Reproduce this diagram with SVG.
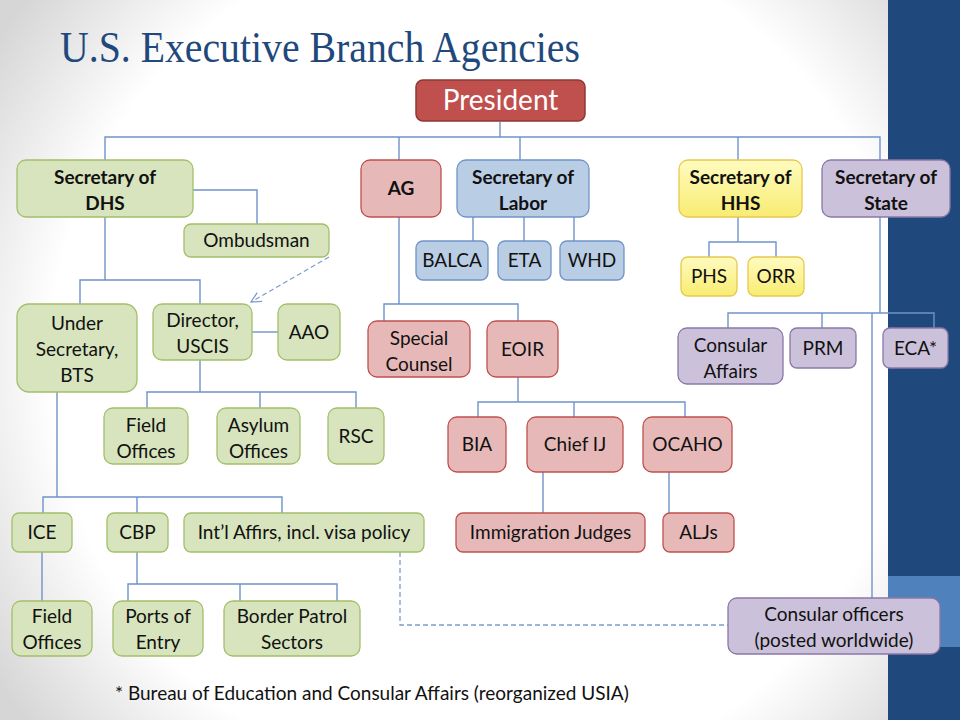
<svg xmlns="http://www.w3.org/2000/svg" width="960" height="720" viewBox="0 0 960 720">
<defs>
<radialGradient id="bg" cx="480" cy="360" r="580" gradientUnits="userSpaceOnUse">
<stop offset="0" stop-color="#ffffff"/>
<stop offset="0.74" stop-color="#ffffff"/>
<stop offset="1" stop-color="#d6d6d6"/>
</radialGradient>
<linearGradient id="yel" x1="0" y1="0" x2="0" y2="1">
<stop offset="0" stop-color="#fffbbf"/>
<stop offset="1" stop-color="#f8ec72"/>
</linearGradient>
<marker id="arr" viewBox="0 0 12 12" refX="11" refY="6" markerWidth="12" markerHeight="12" markerUnits="userSpaceOnUse" orient="auto">
<path d="M1 1 L11 6 L1 11" fill="none" stroke="#7f9ccc" stroke-width="1.3"/>
</marker>
<style>
.box{stroke-width:1.3}
.g{fill:#d7e4bd;stroke:#a3bf6a}
.r{fill:#e6b9b8;stroke:#c0504d}
.b{fill:#b9cde5;stroke:#6f94c6}
.y{fill:url(#yel);stroke:#e8c84e}
.p{fill:#ccc1da;stroke:#8a78a8}
text{font-family:Lato,"Open Sans","Liberation Sans",sans-serif;font-size:19px;fill:#111;text-anchor:middle}
.bd{font-weight:bold}
.ln{fill:none;stroke:#6f93cb;stroke-width:1.4}
.ds{fill:none;stroke:#7f9ccc;stroke-width:1.3;stroke-dasharray:5 3}
</style>
</defs>
<rect width="960" height="720" fill="url(#bg)"/>
<rect x="888" y="0" width="72" height="720" fill="#1f497d"/>
<rect x="888" y="576" width="72" height="71" fill="#4f81bd"/>
<text x="60" y="62" style="font-family:'Liberation Serif','DejaVu Serif',serif;font-size:44px;fill:#1f497d;text-anchor:start" textLength="520" lengthAdjust="spacingAndGlyphs">U.S. Executive Branch Agencies</text>

<g id="connectors">
<path class="ln" d="M500 122 V137"/>
<path class="ln" d="M105 160 V137 H880 V313"/>
<path class="ln" d="M399 137 V304"/>
<path class="ln" d="M520 137 V160"/>
<path class="ln" d="M738 137 V160"/>
<path class="ln" d="M193 190 H257 V224"/>
<path class="ln" d="M105 217 V280"/>
<path class="ln" d="M80 304 V280 H200 V304"/>
<path class="ln" d="M200 360 V392"/>
<path class="ln" d="M147 408 V392 H356 V408"/>
<path class="ln" d="M260 392 V408"/>
<path class="ln" d="M252 332 H278"/>
<path class="ln" d="M57 392 V497"/>
<path class="ln" d="M43 513 V497 H282 V513"/>
<path class="ln" d="M137 497 V513"/>
<path class="ln" d="M42 552 V601"/>
<path class="ln" d="M137 552 V584"/>
<path class="ln" d="M128 601 V584 H337 V601"/>
<path class="ln" d="M240 584 V601"/>
<path class="ln" d="M384 321 V304 H518 V321"/>
<path class="ln" d="M473 217 V241"/>
<path class="ln" d="M524 217 V241"/>
<path class="ln" d="M574 217 V241"/>
<path class="ln" d="M738 217 V242"/>
<path class="ln" d="M709 257 V242 H776 V257"/>
<path class="ln" d="M518 377 V402"/>
<path class="ln" d="M478 417 V402 H685 V417"/>
<path class="ln" d="M574 402 V417"/>
<path class="ln" d="M543 472 V513"/>
<path class="ln" d="M669 472 V513"/>
<path class="ln" d="M728 328 V313 H934 V328"/>
<path class="ln" d="M822 313 V328"/>
<path class="ln" d="M872 313 V598"/>
<path class="ds" d="M400 552 V625 H728"/>
<path class="ds" d="M329 257 L251 302" marker-end="url(#arr)"/>
</g>

<g id="president">
<rect x="416" y="80" width="169" height="41" rx="7" fill="#c0504d" stroke="#8c3836" stroke-width="1.5"/>
<text x="500.5" y="110" style="font-size:28px;fill:#ffffff">President</text>
</g>
<g id="dhs"><rect class="box g" x="17" y="160" width="176" height="57" rx="9"/><text class="bd" x="105" y="184">Secretary of</text><text class="bd" x="105" y="210">DHS</text></g>
<g id="ombudsman"><rect class="box g" x="184" y="224" width="145" height="33" rx="7"/><text x="256.5" y="247">Ombudsman</text></g>
<g id="ag"><rect class="box r" x="361" y="160" width="80" height="57" rx="9"/><text class="bd" x="401" y="195">AG</text></g>
<g id="labor"><rect class="box b" x="457" y="160" width="132" height="57" rx="9"/><text class="bd" x="523" y="184">Secretary of</text><text class="bd" x="523" y="210">Labor</text></g>
<g id="hhs"><rect class="box y" x="679" y="160" width="123" height="57" rx="9"/><text class="bd" x="740.5" y="184">Secretary of</text><text class="bd" x="740.5" y="210">HHS</text></g>
<g id="state"><rect class="box p" x="822" y="160" width="128" height="57" rx="9"/><text class="bd" x="886" y="184">Secretary of</text><text class="bd" x="886" y="210">State</text></g>
<g id="balca"><rect class="box b" x="416" y="241" width="72" height="39" rx="7"/><text x="452" y="267">BALCA</text></g>
<g id="eta"><rect class="box b" x="498" y="241" width="53" height="39" rx="7"/><text x="524.5" y="267">ETA</text></g>
<g id="whd"><rect class="box b" x="560" y="241" width="64" height="39" rx="7"/><text x="592" y="267">WHD</text></g>
<g id="phs"><rect class="box y" x="681" y="257" width="56" height="39" rx="7"/><text x="709" y="283">PHS</text></g>
<g id="orr"><rect class="box y" x="748" y="257" width="56" height="39" rx="7"/><text x="776" y="283">ORR</text></g>
<g id="undersec"><rect class="box g" x="17" y="304" width="120" height="88" rx="12"/><text x="77" y="330">Under</text><text x="77" y="356">Secretary,</text><text x="77" y="382">BTS</text></g>
<g id="director"><rect class="box g" x="153" y="304" width="99" height="56" rx="9"/><text x="202.5" y="327">Director,</text><text x="202.5" y="353">USCIS</text></g>
<g id="aao"><rect class="box g" x="278" y="304" width="62" height="56" rx="9"/><text x="309" y="339">AAO</text></g>
<g id="specialcounsel"><rect class="box r" x="368" y="321" width="102" height="56" rx="9"/><text x="419" y="345">Special</text><text x="419" y="371">Counsel</text></g>
<g id="eoir"><rect class="box r" x="487" y="321" width="71" height="56" rx="9"/><text x="522.5" y="356">EOIR</text></g>
<g id="consularaffairs"><rect class="box p" x="678" y="328" width="105" height="56" rx="9"/><text x="730.5" y="352">Consular</text><text x="730.5" y="378">Affairs</text></g>
<g id="prm"><rect class="box p" x="790" y="328" width="66" height="40" rx="7"/><text x="823" y="355">PRM</text></g>
<g id="eca"><rect class="box p" x="883" y="328" width="65" height="40" rx="7"/><text x="915.5" y="355">ECA*</text></g>
<g id="fieldoffices1"><rect class="box g" x="104" y="408" width="84" height="56" rx="9"/><text x="146" y="432">Field</text><text x="146" y="458">Offices</text></g>
<g id="asylumoffices"><rect class="box g" x="217" y="408" width="83" height="56" rx="9"/><text x="258.5" y="432">Asylum</text><text x="258.5" y="458">Offices</text></g>
<g id="rsc"><rect class="box g" x="328" y="408" width="56" height="56" rx="9"/><text x="356" y="443">RSC</text></g>
<g id="bia"><rect class="box r" x="448" y="417" width="58" height="55" rx="9"/><text x="477" y="451">BIA</text></g>
<g id="chiefij"><rect class="box r" x="527" y="417" width="96" height="55" rx="9"/><text x="575" y="451">Chief IJ</text></g>
<g id="ocaho"><rect class="box r" x="643" y="417" width="89" height="55" rx="9"/><text x="687.5" y="451">OCAHO</text></g>
<g id="ice"><rect class="box g" x="12" y="513" width="60" height="39" rx="7"/><text x="42" y="539">ICE</text></g>
<g id="cbp"><rect class="box g" x="107" y="513" width="61" height="39" rx="7"/><text x="137.5" y="539">CBP</text></g>
<g id="intlaffairs"><rect class="box g" x="184" y="513" width="240" height="39" rx="7"/><text x="304" y="539">Int’l Affirs, incl. visa policy</text></g>
<g id="immigrationjudges"><rect class="box r" x="456" y="513" width="189" height="39" rx="7"/><text x="550.5" y="539">Immigration Judges</text></g>
<g id="aljs"><rect class="box r" x="663" y="513" width="71" height="39" rx="7"/><text x="698.5" y="539">ALJs</text></g>
<g id="fieldoffices2"><rect class="box g" x="12" y="601" width="80" height="55" rx="9"/><text x="52" y="623">Field</text><text x="52" y="649">Offices</text></g>
<g id="portsofentry"><rect class="box g" x="113" y="601" width="90" height="55" rx="9"/><text x="158" y="623">Ports of</text><text x="158" y="649">Entry</text></g>
<g id="borderpatrol"><rect class="box g" x="224" y="601" width="136" height="55" rx="9"/><text x="292" y="623">Border Patrol</text><text x="292" y="649">Sectors</text></g>
<g id="consularofficers"><rect class="box p" x="728" y="598" width="212" height="56" rx="9"/><text x="834" y="621">Consular officers</text><text x="834" y="647">(posted worldwide)</text></g>
<text x="115" y="700" style="text-anchor:start">* Bureau of Education and Consular Affairs (reorganized USIA)</text>
</svg>
